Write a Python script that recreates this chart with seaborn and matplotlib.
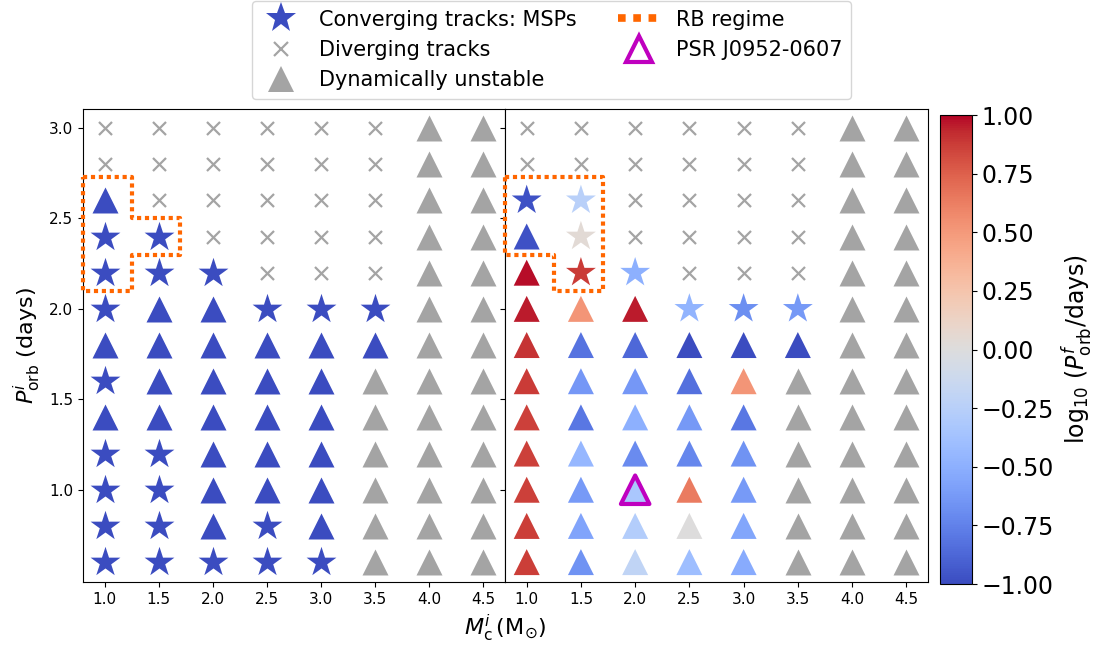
import numpy as np
import pandas as pd
import matplotlib
matplotlib.use("Agg")
import matplotlib.pyplot as plt
from matplotlib.lines import Line2D
from matplotlib.colors import Normalize
from matplotlib.cm import ScalarMappable
from matplotlib.ticker import FuncFormatter
import seaborn as sns

# Grid of initial companion masses and initial orbital periods
MC = [1.0, 1.5, 2.0, 2.5, 3.0, 3.5, 4.0, 4.5]
PORB = [3.0, 2.8, 2.6, 2.4, 2.2, 2.0, 1.8, 1.6, 1.4, 1.2, 1.0, 0.8, 0.6]

# S = converging MSP, T = unstable (followed), X = diverging, G = dynamically unstable
LEFT_GRID = [
    "XXXXXXGG",
    "XXXXXXGG",
    "TXXXXXGG",
    "SSXXXXGG",
    "SSSXXXGG",
    "STTSSSGG",
    "TTTTTTGG",
    "STTTTGGG",
    "TTTTTGGG",
    "SSTTTGGG",
    "SSTTTGGG",
    "SSTSTGGG",
    "SSSSSGGG",
]
RIGHT_GRID = [
    "XXXXXXGG",
    "XXXXXXGG",
    "SSXXXXGG",
    "TSXXXXGG",
    "TSSXXXGG",
    "TTTSSSGG",
    "TTTTTTGG",
    "TTTTTGGG",
    "TTTTTGGG",
    "TTTTTGGG",
    "TTTTTGGG",
    "TTTTTGGG",
    "TTTTTGGG",
]
# log10 of final orbital period (days) for the right panel
nan = np.nan
RIGHT_LOGP = [
    [nan, nan, nan, nan, nan, nan, nan, nan],
    [nan, nan, nan, nan, nan, nan, nan, nan],
    [-0.97, -0.25, nan, nan, nan, nan, nan, nan],
    [-0.97, 0.04, nan, nan, nan, nan, nan, nan],
    [0.98, 0.88, -0.50, nan, nan, nan, nan, nan],
    [0.96, 0.52, 0.96, -0.47, -0.68, -0.63, nan, nan],
    [0.90, -0.82, -0.87, -1.00, -1.00, -1.00, nan, nan],
    [0.88, -0.64, -0.64, -0.83, 0.52, nan, nan, nan],
    [0.86, -0.80, -0.50, -0.63, -0.80, nan, nan, nan],
    [0.86, -0.45, -0.70, -0.72, -0.66, nan, nan, nan],
    [0.86, -0.62, -0.33, 0.64, -0.62, nan, nan, nan],
    [0.87, -0.57, -0.28, 0.00, -0.56, nan, nan, nan],
    [0.87, -0.66, -0.20, -0.40, -0.53, nan, nan, nan],
]

# RB regime outlines
RB_LEFT_X = [0.8, 1.25, 1.25, 1.7, 1.7, 1.25, 1.25, 0.8, 0.8]
RB_LEFT_Y = [2.73, 2.73, 2.5, 2.5, 2.3, 2.3, 2.1, 2.1, 2.73]
RB_RIGHT_X = [0.8, 1.7, 1.7, 1.25, 1.25, 0.8, 0.8]
RB_RIGHT_Y = [2.73, 2.73, 2.1, 2.1, 2.3, 2.3, 2.73]

PSR_MC = [2.0]
PSR_P = [1.0]

BLUE = "#3b4cc0"
GREY = "#a4a4a4"
ORANGE = "#ff6600"
MAGENTA = "#bf00bf"


def grid_frame(grid, logp=None):
    rows = []
    for i, p in enumerate(PORB):
        for j, m in enumerate(MC):
            rows.append({
                "mc": m,
                "p": p,
                "kind": grid[i][j],
                "logp": logp[i][j] if logp is not None else nan,
            })
    return pd.DataFrame(rows)


left_df = grid_frame(LEFT_GRID)
right_df = grid_frame(RIGHT_GRID, RIGHT_LOGP)

fig = plt.figure(figsize=(10.99, 6.52), dpi=100)
ax1 = fig.add_axes([83 / 1099, 1 - 582 / 652, 422 / 1099, 473 / 652])
ax2 = fig.add_axes([505 / 1099, 1 - 582 / 652, 423 / 1099, 473 / 652], sharey=ax1)
cax = fig.add_axes([940 / 1099, 1 - 584 / 652, 32 / 1099, 469 / 652])

norm = Normalize(-1, 1)
STAR_S, TRI_S, X_S = 510, 350, 88


def draw_panel(ax, df, colored):
    grey_tri = df[df.kind == "G"]
    sns.scatterplot(data=grey_tri, x="mc", y="p", marker="^", s=TRI_S, color=GREY,
                    linewidth=0, ax=ax, legend=False)
    div = df[df.kind == "X"]
    sns.scatterplot(data=div, x="mc", y="p", marker="x", s=X_S, color=GREY,
                    linewidth=1.6, ax=ax, legend=False)
    for kind, mk, s in [("T", "^", TRI_S), ("S", "*", STAR_S)]:
        sub = df[df.kind == kind]
        if colored:
            sns.scatterplot(data=sub, x="mc", y="p", hue="logp", palette="coolwarm",
                            hue_norm=norm, marker=mk, s=s, linewidth=0, ax=ax, legend=False)
        else:
            sns.scatterplot(data=sub, x="mc", y="p", marker=mk, s=s, color=BLUE,
                            linewidth=0, ax=ax, legend=False)


draw_panel(ax1, left_df, colored=False)
draw_panel(ax2, right_df, colored=True)

ax1.plot(RB_LEFT_X, RB_LEFT_Y, color=ORANGE, lw=3, ls=(0, (1, 0.9)), clip_on=False, zorder=5)
ax2.plot(RB_RIGHT_X, RB_RIGHT_Y, color=ORANGE, lw=3, ls=(0, (1, 0.9)), clip_on=False, zorder=5)
ax2.scatter(PSR_MC, PSR_P, marker="^", s=420, facecolors="none", edgecolors=MAGENTA,
            linewidths=3, zorder=6)

for ax in (ax1, ax2):
    ax.set_xlim(0.8, 4.7)
    ax.set_xticks(MC)
    ax.set_xticklabels([f"{m:.1f}" for m in MC])
    ax.tick_params(labelsize=11)
    ax.set_xlabel("")
    ax.set_ylabel("")
ax1.set_ylim(0.49, 3.105)
ax1.set_yticks([1.0, 1.5, 2.0, 2.5, 3.0])
ax2.tick_params(axis="y", labelleft=False)

ax1.set_ylabel(r"$P^{i}_{\rm orb}$ (days)", fontsize=16)
fig.text(0.4595, 0.012, r"$M^{i}_{\rm c}\,(\rm M_{\odot})$", fontsize=16, ha="center", va="bottom")

sm = ScalarMappable(norm=norm, cmap="coolwarm")
cbar = fig.colorbar(sm, cax=cax, ticks=np.linspace(-1, 1, 9),
                    format=FuncFormatter(lambda v, _: f"{v:.2f}".replace("-", "\u2212")))
cbar.ax.tick_params(labelsize=17)
cbar.set_label(r"log$_{10}$ ($P^{f}_{\rm orb}$/days)", fontsize=17)

handles = [
    Line2D([], [], ls="none", marker="*", ms=22.7, color=BLUE, mew=0),
    Line2D([], [], ls="none", marker="x", ms=9.4, color=GREY, mew=1.6),
    Line2D([], [], ls="none", marker="^", ms=18.7, color=GREY, mew=0),
    Line2D([], [], color=ORANGE, lw=5.5, ls=(0, (1, 1))),
    Line2D([], [], ls="none", marker="^", ms=19, mfc="none", mec=MAGENTA, mew=3),
]
labels = ["Converging tracks: MSPs", "Diverging tracks", "Dynamically unstable",
          "RB regime", "PSR J0952-0607"]
fig.legend(handles, labels, loc="upper center", bbox_to_anchor=(0.502, 0.998), ncol=2,
           fontsize=15, labelspacing=0.5, borderpad=0.4, borderaxespad=0.0)

fig.savefig("out.png", dpi=100)
